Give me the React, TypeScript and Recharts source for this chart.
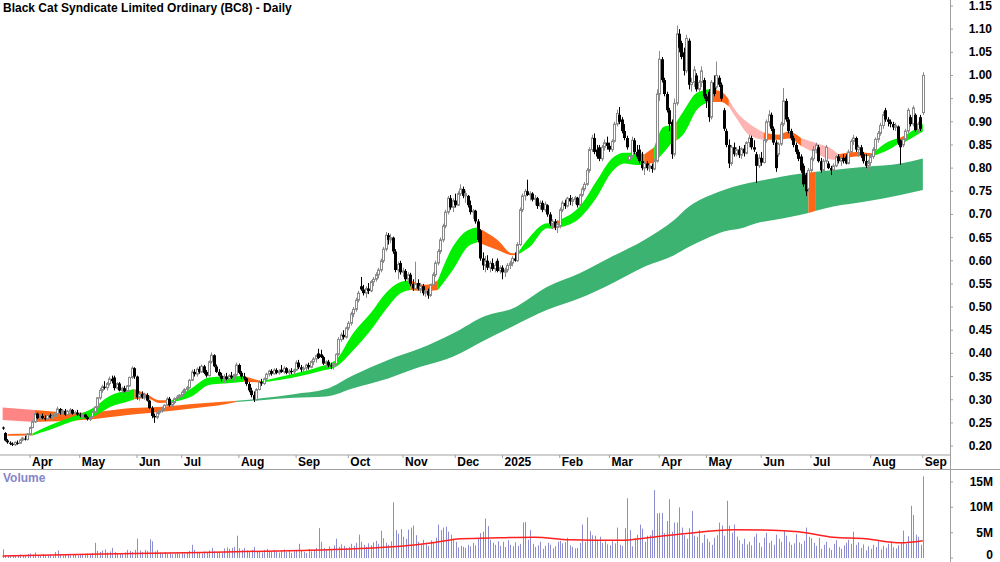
import React from 'react';
import { ComposedChart, Bar, Area, Line, XAxis, YAxis } from 'recharts';

const FONT = "'Liberation Sans Narrow', 'Arial Narrow', 'Liberation Sans', Arial, sans-serif";

// daily candles: [open, high, low, close]
const ohlc: number[][] = [
  // Mar 2024
  [0.24,0.242,0.235,0.238],[0.228,0.23,0.21,0.212],[0.212,0.215,0.205,0.208],[0.207,0.21,0.202,0.205],[0.205,0.208,0.2,0.203],[0.203,0.21,0.2,0.208],[0.207,0.212,0.203,0.206],[0.206,0.215,0.205,0.213],[0.213,0.22,0.21,0.217],[0.216,0.222,0.212,0.214],[0.214,0.228,0.212,0.226],
  // Apr 2024
  [0.226,0.242,0.224,0.24],[0.24,0.256,0.238,0.252],[0.252,0.274,0.25,0.27],[0.27,0.272,0.258,0.26],[0.26,0.268,0.256,0.265],[0.265,0.27,0.258,0.26],[0.26,0.266,0.255,0.258],[0.258,0.268,0.256,0.266],[0.266,0.27,0.26,0.262],[0.262,0.268,0.258,0.264],[0.264,0.272,0.26,0.27],[0.27,0.285,0.268,0.28],[0.28,0.282,0.268,0.272],[0.272,0.28,0.268,0.276],[0.276,0.28,0.265,0.268],[0.268,0.278,0.266,0.275],[0.275,0.282,0.27,0.278],[0.278,0.28,0.268,0.27],[0.27,0.276,0.266,0.272],[0.272,0.278,0.265,0.268],
  // May 2024
  [0.268,0.272,0.262,0.265],[0.265,0.27,0.26,0.268],[0.268,0.27,0.26,0.262],[0.262,0.265,0.255,0.258],[0.258,0.264,0.254,0.262],[0.262,0.275,0.26,0.273],[0.273,0.286,0.27,0.284],[0.284,0.306,0.282,0.304],[0.304,0.325,0.3,0.32],[0.32,0.332,0.315,0.328],[0.328,0.34,0.322,0.326],[0.326,0.338,0.32,0.335],[0.335,0.35,0.33,0.345],[0.345,0.352,0.335,0.34],[0.348,0.352,0.32,0.325],[0.325,0.338,0.322,0.335],[0.335,0.338,0.318,0.32],[0.32,0.328,0.315,0.325],[0.325,0.33,0.316,0.318],[0.318,0.332,0.316,0.33],[0.33,0.35,0.328,0.348],[0.348,0.372,0.345,0.368],[0.368,0.37,0.345,0.35],
  // Jun 2024
  [0.35,0.352,0.3,0.305],[0.305,0.316,0.298,0.312],[0.312,0.318,0.302,0.305],[0.305,0.315,0.3,0.31],[0.31,0.314,0.296,0.298],[0.298,0.3,0.28,0.282],[0.282,0.286,0.26,0.265],[0.265,0.27,0.25,0.262],[0.262,0.275,0.258,0.272],[0.272,0.28,0.268,0.276],[0.276,0.285,0.272,0.28],[0.28,0.29,0.276,0.288],[0.288,0.306,0.286,0.302],[0.302,0.306,0.285,0.288],[0.288,0.296,0.284,0.294],[0.294,0.305,0.29,0.302],[0.302,0.31,0.298,0.306],[0.306,0.312,0.3,0.31],[0.31,0.32,0.306,0.316],
  // Jul 2024
  [0.316,0.325,0.312,0.322],[0.322,0.33,0.318,0.326],[0.326,0.345,0.324,0.342],[0.342,0.365,0.34,0.36],[0.36,0.366,0.35,0.355],[0.355,0.37,0.35,0.366],[0.366,0.372,0.356,0.36],[0.36,0.376,0.358,0.372],[0.372,0.375,0.355,0.358],[0.36,0.364,0.348,0.352],[0.352,0.385,0.35,0.382],[0.382,0.402,0.378,0.396],[0.396,0.398,0.37,0.372],[0.372,0.376,0.358,0.36],[0.36,0.366,0.35,0.352],[0.352,0.358,0.34,0.345],[0.345,0.355,0.336,0.35],[0.35,0.358,0.342,0.345],[0.345,0.355,0.338,0.352],[0.352,0.36,0.345,0.348],[0.348,0.356,0.34,0.354],[0.354,0.38,0.35,0.375],[0.375,0.378,0.355,0.358],
  // Aug 2024
  [0.358,0.362,0.345,0.35],[0.35,0.358,0.342,0.346],[0.346,0.348,0.33,0.334],[0.334,0.338,0.316,0.32],[0.32,0.326,0.305,0.31],[0.31,0.318,0.295,0.3],[0.3,0.325,0.298,0.322],[0.322,0.342,0.32,0.338],[0.338,0.345,0.33,0.335],[0.335,0.348,0.332,0.345],[0.345,0.358,0.342,0.355],[0.355,0.365,0.35,0.362],[0.362,0.366,0.352,0.356],[0.356,0.368,0.354,0.364],[0.364,0.368,0.355,0.358],[0.358,0.366,0.354,0.362],[0.365,0.375,0.358,0.36],[0.36,0.372,0.356,0.368],[0.368,0.37,0.355,0.358],[0.358,0.366,0.352,0.362],[0.362,0.368,0.355,0.36],[0.36,0.367,0.354,0.364],
  // Sep 2024
  [0.364,0.385,0.362,0.38],[0.38,0.386,0.366,0.37],[0.37,0.375,0.36,0.365],[0.365,0.372,0.358,0.368],[0.368,0.378,0.362,0.375],[0.375,0.38,0.365,0.37],[0.37,0.385,0.368,0.382],[0.382,0.392,0.375,0.388],[0.388,0.398,0.38,0.395],[0.4,0.41,0.388,0.39],[0.398,0.408,0.39,0.392],[0.392,0.395,0.375,0.378],[0.378,0.385,0.37,0.382],[0.382,0.386,0.37,0.374],[0.374,0.38,0.366,0.372],[0.372,0.382,0.365,0.378],[0.378,0.4,0.375,0.398],[0.398,0.435,0.395,0.43],[0.43,0.445,0.425,0.44],[0.44,0.45,0.43,0.435],[0.435,0.458,0.432,0.455],
  // Oct 2024
  [0.455,0.47,0.45,0.465],[0.465,0.49,0.46,0.485],[0.485,0.5,0.478,0.495],[0.495,0.52,0.49,0.515],[0.515,0.535,0.51,0.53],[0.545,0.565,0.535,0.538],[0.538,0.548,0.525,0.53],[0.53,0.545,0.52,0.54],[0.54,0.552,0.528,0.535],[0.535,0.558,0.532,0.555],[0.555,0.565,0.545,0.56],[0.56,0.575,0.555,0.57],[0.57,0.585,0.562,0.58],[0.58,0.605,0.575,0.6],[0.6,0.63,0.595,0.625],[0.625,0.662,0.62,0.655],[0.655,0.66,0.635,0.645],[0.645,0.658,0.638,0.65],[0.65,0.652,0.615,0.62],[0.62,0.625,0.575,0.58],[0.58,0.598,0.56,0.592],[0.595,0.6,0.57,0.575],[0.575,0.585,0.565,0.578],
  // Nov 2024
  [0.578,0.582,0.555,0.56],[0.56,0.575,0.552,0.57],[0.57,0.574,0.545,0.55],[0.55,0.56,0.535,0.54],[0.54,0.598,0.538,0.55],[0.552,0.56,0.536,0.54],[0.54,0.552,0.53,0.545],[0.545,0.55,0.525,0.53],[0.53,0.542,0.522,0.535],[0.535,0.54,0.518,0.525],[0.525,0.55,0.522,0.548],[0.548,0.575,0.545,0.57],[0.57,0.6,0.565,0.595],[0.595,0.625,0.59,0.62],[0.62,0.65,0.615,0.645],[0.645,0.68,0.64,0.675],[0.675,0.71,0.67,0.705],[0.705,0.74,0.7,0.735],[0.735,0.742,0.71,0.715],[0.715,0.735,0.705,0.73],[0.73,0.745,0.715,0.72],
  // Dec 2024
  [0.72,0.75,0.718,0.745],[0.745,0.765,0.74,0.755],[0.755,0.76,0.735,0.74],[0.74,0.752,0.725,0.745],[0.74,0.742,0.715,0.72],[0.72,0.73,0.7,0.705],[0.705,0.712,0.69,0.708],[0.708,0.71,0.68,0.685],[0.685,0.69,0.64,0.645],[0.665,0.668,0.6,0.605],[0.605,0.618,0.58,0.59],[0.59,0.61,0.575,0.6],[0.6,0.612,0.58,0.585],[0.585,0.6,0.575,0.595],[0.595,0.605,0.578,0.582],[0.582,0.598,0.575,0.59],[0.6,0.605,0.575,0.578],[0.578,0.59,0.572,0.585],[0.585,0.59,0.56,0.575],[0.575,0.585,0.565,0.58],
  // Jan 2025
  [0.58,0.595,0.575,0.59],[0.59,0.6,0.582,0.595],[0.595,0.61,0.588,0.605],[0.605,0.618,0.598,0.6],[0.6,0.64,0.598,0.635],[0.635,0.715,0.632,0.71],[0.71,0.745,0.705,0.74],[0.74,0.755,0.73,0.75],[0.75,0.775,0.74,0.742],[0.742,0.75,0.73,0.745],[0.745,0.748,0.728,0.732],[0.732,0.742,0.72,0.735],[0.735,0.738,0.712,0.718],[0.718,0.73,0.71,0.725],[0.725,0.73,0.705,0.71],[0.71,0.728,0.705,0.722],[0.72,0.722,0.695,0.7],[0.7,0.705,0.675,0.68],[0.68,0.69,0.668,0.685],[0.685,0.69,0.666,0.672],[0.672,0.688,0.66,0.68],
  // Feb 2025
  [0.675,0.715,0.67,0.71],[0.71,0.73,0.705,0.725],[0.725,0.732,0.712,0.718],[0.718,0.738,0.715,0.735],[0.735,0.742,0.72,0.728],[0.728,0.738,0.718,0.732],[0.732,0.74,0.722,0.736],[0.736,0.738,0.715,0.72],[0.72,0.745,0.718,0.742],[0.742,0.76,0.738,0.755],[0.755,0.77,0.75,0.765],[0.765,0.8,0.762,0.795],[0.795,0.845,0.79,0.84],[0.84,0.872,0.835,0.865],[0.865,0.875,0.83,0.835],[0.84,0.85,0.82,0.825],[0.845,0.85,0.815,0.82],[0.82,0.85,0.815,0.845],[0.845,0.862,0.838,0.855],[0.855,0.868,0.84,0.848],
  // Mar 2025
  [0.848,0.855,0.835,0.84],[0.84,0.862,0.835,0.858],[0.858,0.9,0.855,0.895],[0.895,0.926,0.89,0.918],[0.915,0.932,0.895,0.9],[0.905,0.91,0.875,0.88],[0.88,0.895,0.86,0.865],[0.865,0.87,0.84,0.845],[0.818,0.83,0.812,0.826],[0.826,0.868,0.822,0.86],[0.86,0.865,0.83,0.835],[0.835,0.85,0.82,0.825],[0.84,0.85,0.81,0.815],[0.815,0.835,0.795,0.8],[0.8,0.815,0.785,0.81],[0.81,0.815,0.795,0.8],[0.8,0.812,0.792,0.805],[0.805,0.81,0.79,0.798],[0.798,0.82,0.795,0.815],[0.815,0.97,0.812,0.96],
  // Apr 2025
  [0.96,1.053,0.945,1.035],[1.035,1.04,0.985,0.99],[0.99,0.995,0.955,0.96],[0.96,0.965,0.92,0.925],[0.925,0.93,0.88,0.895],[0.9,0.905,0.82,0.83],[0.83,0.95,0.825,0.94],[0.94,1.108,0.935,1.09],[1.09,1.1,1.05,1.06],[1.07,1.075,1.035,1.04],[1.05,1.06,1.0,1.01],[1.01,1.088,1.005,1.08],[1.075,1.08,0.97,0.98],[0.98,0.995,0.965,0.985],[0.985,1.02,0.975,1.012],[1.0,1.005,0.965,0.97],[0.97,0.99,0.965,0.985],[0.985,1.02,0.975,1.01],[0.99,0.995,0.95,0.955],[0.955,0.96,0.93,0.945],
  // May 2025
  [0.965,0.97,0.9,0.91],[0.91,0.99,0.905,0.985],[0.985,1.0,0.955,0.96],[0.975,1.03,0.97,1.0],[0.995,1.0,0.975,0.98],[0.98,0.985,0.945,0.95],[0.925,0.93,0.88,0.885],[0.88,0.885,0.845,0.85],[0.85,0.862,0.8,0.81],[0.81,0.85,0.805,0.845],[0.845,0.855,0.825,0.83],[0.83,0.845,0.825,0.84],[0.84,0.848,0.822,0.828],[0.828,0.845,0.82,0.842],[0.842,0.85,0.825,0.832],[0.832,0.858,0.83,0.855],[0.855,0.872,0.845,0.865],[0.865,0.87,0.84,0.845],[0.845,0.86,0.835,0.84],[0.83,0.835,0.768,0.805],[0.805,0.83,0.8,0.822],[0.822,0.835,0.805,0.812],
  // Jun 2025
  [0.812,0.865,0.81,0.86],[0.86,0.905,0.855,0.9],[0.9,0.925,0.89,0.915],[0.915,0.92,0.88,0.885],[0.885,0.89,0.85,0.855],[0.855,0.86,0.792,0.8],[0.83,0.856,0.825,0.852],[0.852,0.9,0.848,0.895],[0.895,0.973,0.89,0.945],[0.945,0.95,0.9,0.905],[0.905,0.91,0.875,0.88],[0.88,0.885,0.86,0.865],[0.865,0.87,0.845,0.85],[0.85,0.855,0.83,0.835],[0.835,0.84,0.815,0.82],[0.825,0.83,0.79,0.795],[0.805,0.81,0.76,0.765],[0.785,0.79,0.74,0.75],[0.755,0.8,0.75,0.795],[0.795,0.825,0.79,0.82],
  // Jul 2025
  [0.82,0.848,0.815,0.84],[0.84,0.855,0.832,0.85],[0.845,0.85,0.812,0.815],[0.815,0.822,0.79,0.795],[0.795,0.82,0.78,0.815],[0.815,0.85,0.81,0.845],[0.81,0.815,0.798,0.8],[0.8,0.805,0.785,0.795],[0.795,0.81,0.79,0.805],[0.805,0.828,0.802,0.825],[0.825,0.83,0.81,0.815],[0.815,0.828,0.805,0.822],[0.822,0.83,0.81,0.815],[0.825,0.83,0.808,0.81],[0.81,0.84,0.808,0.835],[0.835,0.862,0.83,0.858],[0.858,0.872,0.85,0.865],[0.865,0.868,0.835,0.84],[0.84,0.85,0.825,0.845],[0.845,0.85,0.822,0.828],[0.83,0.835,0.81,0.815],[0.815,0.83,0.8,0.805],[0.805,0.818,0.795,0.812],
  // Aug 2025
  [0.812,0.83,0.805,0.825],[0.825,0.845,0.82,0.84],[0.84,0.866,0.835,0.862],[0.862,0.88,0.855,0.875],[0.875,0.898,0.87,0.892],[0.892,0.922,0.885,0.915],[0.925,0.93,0.9,0.905],[0.905,0.91,0.89,0.9],[0.9,0.905,0.888,0.895],[0.895,0.9,0.882,0.888],[0.888,0.898,0.88,0.892],[0.89,0.892,0.85,0.855],[0.86,0.862,0.807,0.845],[0.85,0.868,0.845,0.862],[0.862,0.885,0.858,0.88],[0.88,0.93,0.875,0.925],[0.91,0.915,0.89,0.895],[0.895,0.935,0.89,0.93],[0.915,0.918,0.878,0.882],[0.882,0.9,0.875,0.895],[0.91,0.915,0.88,0.885],
  // Sep 2025
  [0.92,1.007,0.915,1.0],
];

// daily volume, millions of shares
const volumes: number[] = [
  1.7,0.6,0.5,0.4,0.6,0.5,0.4,0.7,0.5,0.6,0.8,
  0.9,0.7,1.1,0.6,0.5,0.8,0.6,0.5,0.7,0.4,1.2,1.5,0.7,0.5,0.6,0.8,0.5,0.7,0.6,0.5,
  0.7,0.8,0.6,0.9,0.7,1.0,3.0,1.4,1.2,1.5,1.7,1.1,1.3,2.0,1.2,0.9,1.0,0.8,1.1,1.6,1.4,1.2,1.6,
  3.8,1.5,1.2,1.6,1.4,3.7,3.3,1.3,1.6,1.1,0.9,1.2,0.8,1.0,0.7,0.9,1.1,0.8,1.0,
  0.9,1.2,1.4,2.6,1.6,1.2,1.0,0.9,1.3,1.1,1.5,2.0,1.4,1.1,1.2,1.0,1.9,2.1,1.8,2.0,2.2,4.4,1.9,
  1.6,2.0,1.5,1.2,1.6,2.2,1.4,1.3,1.1,1.6,1.8,1.4,1.2,1.6,1.3,1.1,1.5,1.7,1.2,1.4,1.0,1.3,
  1.6,2.8,1.5,1.2,1.0,1.8,1.3,1.6,2.0,5.9,3.2,2.0,1.5,2.3,1.8,2.5,3.8,2.2,2.7,2.4,2.0,
  2.2,2.8,2.4,3.0,4.6,3.2,2.6,2.2,2.9,2.5,3.1,3.4,2.8,5.4,3.9,3.0,2.6,3.3,11.0,5.5,4.8,5.7,4.2,
  3.8,5.6,6.0,6.4,4.5,3.2,2.8,3.6,3.0,2.4,3.5,3.2,4.0,6.6,5.5,6.0,6.2,5.2,4.6,3.8,3.2,
  2.1,2.4,2.2,2.0,2.6,2.3,3.0,2.5,3.8,4.9,5.2,7.8,6.3,3.6,3.0,2.6,3.3,2.4,3.2,2.2,
  3.5,2.6,2.3,3.1,2.4,2.8,7.0,7.1,3.6,5.5,2.8,2.2,2.5,3.2,1.8,2.4,3.0,2.6,1.9,2.3,3.2,
  3.4,2.9,3.1,4.0,2.5,2.2,1.9,2.0,3.0,6.6,3.2,8.0,5.3,4.5,4.4,3.6,4.2,3.0,3.3,2.7,
  2.5,3.3,2.9,6.0,2.6,2.4,5.9,11.8,5.5,2.3,3.9,4.6,6.6,5.8,3.2,4.4,4.5,5.5,13.4,8.8,
  8.9,8.9,4.9,7.3,11.6,5.2,7.0,7.0,10.0,6.0,4.5,3.8,5.9,9.3,4.4,4.2,5.5,3.0,4.6,3.8,
  3.2,2.6,4.0,4.5,7.0,6.4,4.4,11.3,6.4,5.0,6.6,4.2,3.5,2.8,3.8,2.7,3.2,2.5,4.2,4.8,3.0,2.2,
  4.0,5.0,3.0,3.4,2.6,4.6,3.8,3.2,5.3,4.4,3.2,2.6,2.9,4.7,3.1,2.8,3.4,6.0,4.2,3.9,
  3.0,2.4,4.0,1.8,2.6,3.2,2.0,1.6,2.8,3.5,2.2,1.8,2.5,3.0,3.6,2.8,5.2,2.6,3.1,2.0,2.7,1.5,2.3,
  1.8,2.6,2.2,3.3,1.7,2.4,2.0,2.8,3.2,2.1,1.9,2.5,3.0,5.4,2.8,4.3,10.3,8.5,4.6,4.2,2.6,
  16.1,
];

// volume moving average, [day index, millions]
const volumeAvg: number[][] = [
  [0,0.4],[40,0.8],[80,1.1],[120,1.5],[140,1.8],[160,2.3],[173,3.0],[184,3.8],[200,4.0],[214,4.1],
  [228,3.6],[248,3.5],[261,4.1],[274,4.8],[294,5.6],[314,5.4],[320,5.2],[334,4.1],[347,3.8],[361,3.0],[370,3.4],
];

// short-term ribbon [day index, low, high]
const shortRibbon: number[][] = [
  [2,0.222,0.226],[12,0.223,0.227],[19,0.235,0.245],[30,0.256,0.267],[36,0.262,0.281],[43,0.284,0.308],[51,0.297,0.321],[53,0.301,0.323],
  [58,0.303,0.312],[63,0.293,0.299],[68,0.295,0.299],[76,0.307,0.325],[83,0.332,0.348],[89,0.335,0.35],[97,0.339,0.351],[104,0.337,0.34],
  [117,0.348,0.356],[128,0.362,0.372],[134,0.371,0.386],[141,0.407,0.444],[148,0.45,0.487],[154,0.494,0.53],[160,0.53,0.554],[164,0.537,0.558],
  [170,0.535,0.548],[175,0.537,0.558],[181,0.58,0.63],[187,0.63,0.666],[191,0.64,0.672],[199,0.623,0.645],[205,0.612,0.616],[207,0.613,0.616],
  [212,0.63,0.652],[219,0.67,0.681],[221,0.669,0.68],[224,0.672,0.688],[232,0.692,0.717],[239,0.738,0.774],[245,0.792,0.821],[250,0.81,0.833],
  [255,0.807,0.833],[258,0.807,0.83],[262,0.812,0.845],[266,0.835,0.89],[269,0.855,0.892],[271,0.86,0.9],[274,0.875,0.925],[279,0.925,0.962],
  [284,0.943,0.97],[289,0.943,0.965],[292,0.933,0.948],[295,0.908,0.922],[300,0.872,0.897],[306,0.861,0.877],[312,0.861,0.872],[316,0.864,0.879],
  [321,0.848,0.865],[327,0.832,0.854],[334,0.818,0.839],[336,0.818,0.83],[343,0.825,0.835],[350,0.826,0.832],[356,0.839,0.857],[360,0.852,0.864],
  [363,0.857,0.871],[370,0.879,0.895],
];

// long-term ribbon [day index, low, high]
const longRibbon: number[][] = [
  [0,0.256,0.283],[13,0.252,0.278],[32,0.256,0.272],[52,0.268,0.282],[64,0.274,0.285],[76,0.281,0.291],[90,0.291,0.296],[94,0.295,0.298],
  [104,0.299,0.303],[117,0.304,0.312],[130,0.307,0.323],[141,0.325,0.353],[155,0.346,0.386],[168,0.371,0.411],[181,0.393,0.443],[194,0.429,0.481],
  [205,0.458,0.497],[219,0.494,0.544],[232,0.519,0.573],[245,0.551,0.609],[258,0.587,0.645],[270,0.612,0.688],[276,0.63,0.717],[283,0.648,0.738],
  [290,0.663,0.753],[297,0.67,0.764],[303,0.681,0.771],[310,0.688,0.778],[317,0.695,0.785],[324,0.703,0.79],[327,0.708,0.792],[334,0.717,0.796],
  [347,0.728,0.803],[361,0.742,0.81],[370,0.753,0.821],
];

const GREEN = '#00f000';
const ORANGE = '#ff6618';
const PINK = '#ffb4b4';
const DARKGREEN = '#3cb371';
const SALMON = '#ff8585';

// colour runs [from index, to index, colour]
const shortColors: any[][] = [
  [2,12,ORANGE],[12,53,GREEN],[53,68,ORANGE],[68,97,GREEN],[97,104,ORANGE],[104,164,GREEN],[164,175,ORANGE],[175,191,GREEN],
  [191,207,ORANGE],[207,221,GREEN],[221,224,ORANGE],[224,258,GREEN],[258,262,ORANGE],[262,269,GREEN],[269,271,ORANGE],[271,284,GREEN],
  [284,292,ORANGE],[292,306,PINK],[306,321,ORANGE],[321,336,PINK],[336,350,ORANGE],[350,360,GREEN],[360,363,ORANGE],[363,370,GREEN],
];
const longColors: any[][] = [
  [0,13,SALMON],[13,94,ORANGE],[94,324,DARKGREEN],[324,327,ORANGE],[327,370,DARKGREEN],
];

const monthTicks = [11,31,54,72,95,118,139,161,182,201,224,244,264,283,305,325,349,370];
const monthLabels = ['Apr','May','Jun','Jul','Aug','Sep','Oct','Nov','Dec','2025','Feb','Mar','Apr','May','Jun','Jul','Aug','Sep'];
const priceTicks = [0.2,0.25,0.3,0.35,0.4,0.45,0.5,0.55,0.6,0.65,0.7,0.75,0.8,0.85,0.9,0.95,1.0,1.05,1.1,1.15];
const volumeTicks = [0,5,10,15];

const X_MIN = -1.063;
const X_MAX = 380.92;
const PLOT_H = 455;
const PMAX = 1.16295;
const PMIN = 0.18065;
const K = PLOT_H / (PMAX - PMIN);
const VMAX = 17.57;

const rows: any[] = ohlc.map((d, i) => ({ i, hl: [d[2], d[1]], o: d[0], h: d[1], l: d[2], c: d[3], v: volumes[i] ?? 0 }));
volumeAvg.forEach(([i, v]) => { if (rows[i]) rows[i].vma = v; });
shortColors.forEach(([a, b], k) => {
  shortRibbon.forEach(([i, lo, hi]) => { if (i >= a && i <= b && rows[i]) rows[i]['s' + k] = [lo, hi]; });
});
longColors.forEach(([a, b], k) => {
  longRibbon.forEach(([i, lo, hi]) => { if (i >= a && i <= b && rows[i]) rows[i]['g' + k] = [lo, hi]; });
});

const Candle = (props: any) => {
  const { x, y, width, payload } = props;
  if (!payload || x == null || y == null) return null;
  const { o, h, l, c } = payload;
  const cx = Math.round(x + width / 2);
  const py = (v: number) => y + (h - v) * K;
  const up = c >= o;
  const top = py(Math.max(o, c));
  const bot = py(Math.min(o, c));
  const col = up ? '#8a8a8a' : '#000000';
  return (
    <g>
      <line x1={cx + 0.5} x2={cx + 0.5} y1={y} y2={py(l)} stroke={col} strokeWidth={1} />
      {up ? (
        <rect x={cx - 0.5} y={top} width={2} height={Math.max(bot - top, 1)} fill="#ffffff" stroke={col} strokeWidth={1} />
      ) : (
        <rect x={cx - 1} y={top} width={3} height={Math.max(bot - top, 1)} fill="#000000" />
      )}
    </g>
  );
};

const VolBar = (props: any) => {
  const { x, y, width, height } = props;
  if (x == null || !height) return null;
  const cx = Math.round(x + width / 2);
  return <rect x={cx} y={y} width={1} height={height} fill="#8c8cd0" />;
};

const MonthTick = (props: any) => {
  const { x, payload } = props;
  const idx = monthTicks.indexOf(payload.value);
  return (
    <text x={x + 2} y={466} textAnchor="start" fontFamily={FONT} fontWeight="bold" fontSize={12} fill="#000">
      {monthLabels[idx]}
    </text>
  );
};

const PriceTick = (props: any) => {
  const { y, payload } = props;
  return (
    <text x={992} y={y + 4} textAnchor="end" fontFamily={FONT} fontWeight="bold" fontSize={12} fill="#000">
      {Number(payload.value).toFixed(2)}
    </text>
  );
};

const VolTick = (props: any) => {
  const { y, payload } = props;
  const v = payload.value;
  return (
    <text x={993} y={Math.min(y + 4, 90)} textAnchor="end" fontFamily={FONT} fontWeight="bold" fontSize={12} fill="#000">
      {v === 0 ? '0' : v + 'M'}
    </text>
  );
};

export default function App() {
  return (
    <div style={{ position: 'relative', width: 1000, height: 562, background: '#fff', overflow: 'hidden' }}>
      <style>{'body{margin:0;background:#fff}'}</style>
      <div style={{ position: 'absolute', left: 0, top: 0 }}>
        <ComposedChart width={1000} height={469} data={rows} margin={{ top: 0, right: 0, bottom: 0, left: 0 }}>
          <XAxis
            type="number"
            dataKey="i"
            domain={[X_MIN, X_MAX]}
            allowDataOverflow
            ticks={monthTicks}
            interval={0}
            height={14}
            tickSize={3}
            axisLine={{ stroke: '#a0a0a0' }}
            tickLine={{ stroke: '#a0a0a0' }}
            tick={<MonthTick />}
          />
          <YAxis
            orientation="right"
            type="number"
            domain={[PMIN, PMAX]}
            allowDataOverflow
            ticks={priceTicks}
            interval={0}
            width={50}
            tickSize={3}
            axisLine={false}
            tickLine={{ stroke: '#a0a0a0' }}
            tick={<PriceTick />}
          />
          {longColors.map((seg, k) => (
            <Area key={'g' + k} dataKey={'g' + k} type="monotone" connectNulls stroke="none" fill={seg[2]} fillOpacity={1} dot={false} activeDot={false} isAnimationActive={false} />
          ))}
          {shortColors.map((seg, k) => (
            <Area key={'s' + k} dataKey={'s' + k} type="monotone" connectNulls stroke="none" fill={seg[2]} fillOpacity={1} dot={false} activeDot={false} isAnimationActive={false} />
          ))}
          <Bar dataKey="hl" barSize={3} shape={<Candle />} isAnimationActive={false} />
        </ComposedChart>
      </div>
      <div style={{ position: 'absolute', left: 0, top: 469 }}>
        <ComposedChart width={1000} height={93} data={rows} margin={{ top: 0, right: 0, bottom: 4, left: 0 }}>
          <XAxis type="number" dataKey="i" domain={[X_MIN, X_MAX]} allowDataOverflow hide />
          <YAxis
            orientation="right"
            type="number"
            domain={[0, VMAX]}
            allowDataOverflow
            ticks={volumeTicks}
            interval={0}
            width={50}
            tickSize={3}
            axisLine={false}
            tickLine={{ stroke: '#a0a0a0' }}
            tick={<VolTick />}
          />
          <Bar dataKey="v" barSize={1} shape={<VolBar />} isAnimationActive={false} />
          <Line dataKey="vma" type="monotone" connectNulls stroke="#ff2020" strokeWidth={1.5} dot={false} activeDot={false} isAnimationActive={false} />
        </ComposedChart>
      </div>
      <div style={{ position: 'absolute', left: 950, top: 0, width: 1, height: 562, background: '#a0a0a0' }} />
      <div style={{ position: 'absolute', left: 0, top: 469, width: 1000, height: 1, background: '#a0a0a0' }} />
      <div style={{ position: 'absolute', left: 3, top: 1, fontFamily: FONT, fontWeight: 'bold', fontSize: 12, color: '#000', whiteSpace: 'nowrap' }}>
        Black Cat Syndicate Limited Ordinary (BC8) - Daily
      </div>
      <div style={{ position: 'absolute', left: 3, top: 471, fontFamily: FONT, fontWeight: 'bold', fontSize: 12, color: '#8585c8', whiteSpace: 'nowrap' }}>
        Volume
      </div>
    </div>
  );
}
